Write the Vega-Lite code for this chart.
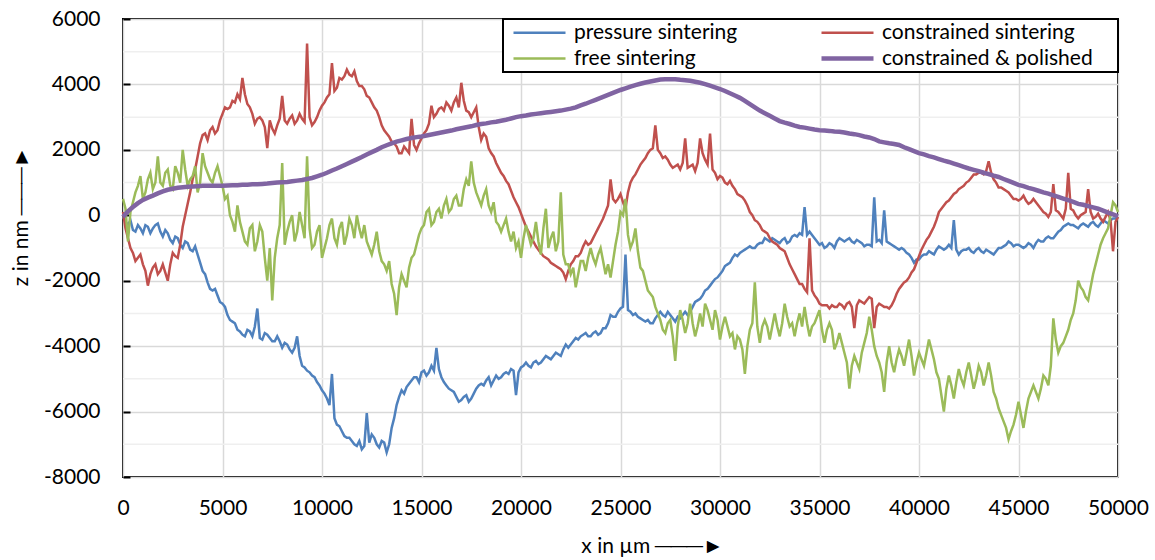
{
"$schema": "https://vega.github.io/schema/vega-lite/v6.json",
"width": 995, "height": 458,
"autosize": {"type": "none"},
"padding": {"left": 123, "top": 19, "right": 37, "bottom": 83},
"background": "white",
"config": {"view": {"stroke": "#000", "strokeWidth": 2}, "font": "Lato"},
"data": {"values": [
{"x":0,"p":-50,"c":100,"f":500,"k":-50},
{"x":250,"p":-300,"c":-700,"f":-800,"k":120},
{"x":500,"p":-450,"c":-1150,"f":400,"k":250},
{"x":750,"p":-300,"c":-1300,"f":900,"k":370},
{"x":1000,"p":-550,"c":-1500,"f":500,"k":470},
{"x":1250,"p":-350,"c":-2150,"f":1100,"k":540},
{"x":1500,"p":-400,"c":-1600,"f":800,"k":600},
{"x":1750,"p":-250,"c":-1800,"f":1800,"k":670},
{"x":2000,"p":-650,"c":-1500,"f":900,"k":730},
{"x":2250,"p":-550,"c":-2000,"f":1400,"k":780},
{"x":2500,"p":-850,"c":-1150,"f":800,"k":810},
{"x":2750,"p":-700,"c":-1300,"f":1300,"k":840},
{"x":3000,"p":-1000,"c":-350,"f":2000,"k":860},
{"x":3250,"p":-850,"c":350,"f":900,"k":870},
{"x":3500,"p":-1100,"c":1100,"f":1200,"k":880},
{"x":3750,"p":-1200,"c":1800,"f":700,"k":890},
{"x":4000,"p":-1700,"c":2450,"f":1900,"k":900},
{"x":4250,"p":-2050,"c":2300,"f":1300,"k":900},
{"x":4500,"p":-2300,"c":2700,"f":1000,"k":900},
{"x":4750,"p":-2450,"c":2600,"f":1500,"k":905},
{"x":5000,"p":-2700,"c":3100,"f":900,"k":900},
{"x":5250,"p":-3050,"c":3250,"f":600,"k":910},
{"x":5500,"p":-3250,"c":3500,"f":-200,"k":915},
{"x":5750,"p":-3500,"c":3700,"f":300,"k":920},
{"x":6000,"p":-3650,"c":4200,"f":-500,"k":930},
{"x":6250,"p":-3500,"c":3400,"f":-900,"k":935},
{"x":6500,"p":-3700,"c":3100,"f":-300,"k":945},
{"x":6750,"p":-2850,"c":2950,"f":-800,"k":950},
{"x":7000,"p":-3800,"c":2900,"f":-500,"k":960},
{"x":7250,"p":-3650,"c":2050,"f":-2000,"k":970},
{"x":7500,"p":-3850,"c":2650,"f":-2600,"k":985},
{"x":7750,"p":-3700,"c":2750,"f":-700,"k":1000},
{"x":8000,"p":-4050,"c":3650,"f":1600,"k":1010},
{"x":8250,"p":-3950,"c":2800,"f":-500,"k":1020},
{"x":8500,"p":-4200,"c":3050,"f":0,"k":1040},
{"x":8750,"p":-3700,"c":2900,"f":-500,"k":1060},
{"x":9000,"p":-4600,"c":2950,"f":-300,"k":1080},
{"x":9250,"p":-4750,"c":5250,"f":1800,"k":1110},
{"x":9500,"p":-4900,"c":2750,"f":-1000,"k":1140},
{"x":9750,"p":-5100,"c":3000,"f":-500,"k":1190},
{"x":10000,"p":-5350,"c":3350,"f":-1300,"k":1240},
{"x":10250,"p":-5600,"c":3600,"f":-700,"k":1300},
{"x":10500,"p":-4850,"c":4650,"f":-100,"k":1370},
{"x":10750,"p":-6400,"c":3900,"f":-900,"k":1430},
{"x":11000,"p":-6600,"c":4150,"f":-200,"k":1500},
{"x":11250,"p":-6800,"c":4450,"f":-600,"k":1570},
{"x":11500,"p":-6900,"c":4250,"f":-300,"k":1640},
{"x":11750,"p":-7050,"c":4100,"f":0,"k":1710},
{"x":12000,"p":-7150,"c":3950,"f":-700,"k":1780},
{"x":12250,"p":-6050,"c":3650,"f":-800,"k":1860},
{"x":12500,"p":-6700,"c":3450,"f":-1200,"k":1930},
{"x":12750,"p":-7000,"c":3200,"f":-500,"k":2000},
{"x":13000,"p":-6900,"c":2750,"f":-1400,"k":2080},
{"x":13250,"p":-7250,"c":2500,"f":-1700,"k":2140},
{"x":13500,"p":-6500,"c":2250,"f":-2100,"k":2200},
{"x":13750,"p":-5800,"c":2100,"f":-3050,"k":2250},
{"x":14000,"p":-5350,"c":1900,"f":-1800,"k":2290},
{"x":14250,"p":-5250,"c":2000,"f":-2200,"k":2330},
{"x":14500,"p":-5050,"c":2950,"f":-1300,"k":2360},
{"x":14750,"p":-4950,"c":2000,"f":-900,"k":2390},
{"x":15000,"p":-4800,"c":2350,"f":-400,"k":2410},
{"x":15250,"p":-4900,"c":2600,"f":100,"k":2440},
{"x":15500,"p":-4600,"c":3350,"f":-300,"k":2470},
{"x":15750,"p":-4050,"c":3100,"f":100,"k":2500},
{"x":16000,"p":-4950,"c":3300,"f":-100,"k":2530},
{"x":16250,"p":-5200,"c":3450,"f":500,"k":2560},
{"x":16500,"p":-5350,"c":3200,"f":200,"k":2590},
{"x":16750,"p":-5550,"c":3600,"f":600,"k":2630},
{"x":17000,"p":-5650,"c":4050,"f":300,"k":2660},
{"x":17250,"p":-5500,"c":3200,"f":1100,"k":2690},
{"x":17500,"p":-5600,"c":3000,"f":1650,"k":2720},
{"x":17750,"p":-5300,"c":3300,"f":700,"k":2760},
{"x":18000,"p":-5150,"c":2300,"f":300,"k":2790},
{"x":18250,"p":-5050,"c":2400,"f":800,"k":2810},
{"x":18500,"p":-5200,"c":1900,"f":100,"k":2840},
{"x":18750,"p":-4900,"c":1600,"f":-200,"k":2860},
{"x":19000,"p":-4950,"c":1300,"f":-500,"k":2890},
{"x":19250,"p":-4800,"c":1050,"f":-100,"k":2920},
{"x":19500,"p":-4700,"c":750,"f":-800,"k":2960},
{"x":19750,"p":-5500,"c":400,"f":-1000,"k":3000},
{"x":20000,"p":-4650,"c":50,"f":-1300,"k":3030},
{"x":20250,"p":-4500,"c":-350,"f":-300,"k":3050},
{"x":20500,"p":-4650,"c":-650,"f":-900,"k":3080},
{"x":20750,"p":-4450,"c":-950,"f":-200,"k":3100},
{"x":21000,"p":-4500,"c":-1150,"f":-1200,"k":3120},
{"x":21250,"p":-4300,"c":-1300,"f":200,"k":3140},
{"x":21500,"p":-4400,"c":-1450,"f":-700,"k":3160},
{"x":21750,"p":-4200,"c":-1550,"f":-1100,"k":3180},
{"x":22000,"p":-4300,"c":-1650,"f":700,"k":3200},
{"x":22250,"p":-3950,"c":-1950,"f":-1500,"k":3230},
{"x":22500,"p":-3950,"c":-1500,"f":-1800,"k":3260},
{"x":22750,"p":-3750,"c":-1250,"f":-2200,"k":3300},
{"x":23000,"p":-3700,"c":-1150,"f":-1400,"k":3360},
{"x":23250,"p":-3600,"c":-800,"f":-1700,"k":3410},
{"x":23500,"p":-3700,"c":-850,"f":-1000,"k":3470},
{"x":23750,"p":-3550,"c":-550,"f":-1500,"k":3530},
{"x":24000,"p":-3600,"c":-250,"f":-1000,"k":3590},
{"x":24250,"p":-3450,"c":100,"f":-1800,"k":3650},
{"x":24500,"p":-3050,"c":1100,"f":-1900,"k":3710},
{"x":24750,"p":-3100,"c":400,"f":-900,"k":3770},
{"x":25000,"p":-2850,"c":650,"f":100,"k":3830},
{"x":25250,"p":-1200,"c":200,"f":500,"k":3880},
{"x":25500,"p":-2950,"c":1000,"f":-1000,"k":3930},
{"x":25750,"p":-3000,"c":1250,"f":-400,"k":3980},
{"x":26000,"p":-3150,"c":1550,"f":-1600,"k":4020},
{"x":26250,"p":-3250,"c":1750,"f":-2000,"k":4060},
{"x":26500,"p":-3300,"c":2000,"f":-2400,"k":4090},
{"x":26750,"p":-3150,"c":2750,"f":-2800,"k":4120},
{"x":27000,"p":-2950,"c":1900,"f":-3200,"k":4150},
{"x":27250,"p":-3100,"c":1800,"f":-3600,"k":4160},
{"x":27500,"p":-3050,"c":1550,"f":-3200,"k":4160},
{"x":27750,"p":-3250,"c":1500,"f":-4450,"k":4160},
{"x":28000,"p":-3150,"c":1400,"f":-2900,"k":4140},
{"x":28250,"p":-2950,"c":2350,"f":-3600,"k":4130},
{"x":28500,"p":-2950,"c":1500,"f":-2700,"k":4110},
{"x":28750,"p":-2650,"c":1350,"f":-3700,"k":4080},
{"x":29000,"p":-2550,"c":2350,"f":-3000,"k":4050},
{"x":29250,"p":-2300,"c":1700,"f":-2700,"k":4010},
{"x":29500,"p":-2150,"c":2500,"f":-3200,"k":3960},
{"x":29750,"p":-1950,"c":1300,"f":-2900,"k":3910},
{"x":30000,"p":-1800,"c":1200,"f":-3800,"k":3860},
{"x":30250,"p":-1550,"c":1000,"f":-3100,"k":3800},
{"x":30500,"p":-1450,"c":1050,"f":-3700,"k":3730},
{"x":30750,"p":-1200,"c":800,"f":-4100,"k":3660},
{"x":31000,"p":-1150,"c":600,"f":-3800,"k":3590},
{"x":31250,"p":-1050,"c":450,"f":-4850,"k":3500},
{"x":31500,"p":-950,"c":100,"f":-3500,"k":3400},
{"x":31750,"p":-1000,"c":-150,"f":-2050,"k":3300},
{"x":32000,"p":-850,"c":-300,"f":-3900,"k":3200},
{"x":32250,"p":-700,"c":-500,"f":-3200,"k":3120},
{"x":32500,"p":-800,"c":-700,"f":-3800,"k":3040},
{"x":32750,"p":-750,"c":-850,"f":-3000,"k":2960},
{"x":33000,"p":-850,"c":-1000,"f":-3700,"k":2880},
{"x":33250,"p":-700,"c":-1100,"f":-2700,"k":2830},
{"x":33500,"p":-800,"c":-1500,"f":-3400,"k":2790},
{"x":33750,"p":-600,"c":-1800,"f":-3700,"k":2740},
{"x":34000,"p":-550,"c":-2100,"f":-3000,"k":2700},
{"x":34250,"p":250,"c":-2250,"f":-2800,"k":2680},
{"x":34500,"p":-500,"c":-700,"f":-3700,"k":2650},
{"x":34750,"p":-700,"c":-2450,"f":-3300,"k":2620},
{"x":35000,"p":-900,"c":-2700,"f":-2900,"k":2600},
{"x":35250,"p":-1000,"c":-2750,"f":-3900,"k":2590},
{"x":35500,"p":-850,"c":-2850,"f":-3300,"k":2580},
{"x":35750,"p":-1000,"c":-2800,"f":-4100,"k":2560},
{"x":36000,"p":-700,"c":-2700,"f":-3600,"k":2550},
{"x":36250,"p":-800,"c":-2850,"f":-4200,"k":2530},
{"x":36500,"p":-700,"c":-2650,"f":-5300,"k":2500},
{"x":36750,"p":-850,"c":-3450,"f":-4300,"k":2480},
{"x":37000,"p":-800,"c":-2600,"f":-4700,"k":2450},
{"x":37250,"p":-950,"c":-2700,"f":-3900,"k":2410},
{"x":37500,"p":-900,"c":-2500,"f":-3100,"k":2380},
{"x":37750,"p":550,"c":-3450,"f":-4000,"k":2330},
{"x":38000,"p":-750,"c":-2700,"f":-4500,"k":2260},
{"x":38250,"p":150,"c":-2800,"f":-5400,"k":2230},
{"x":38500,"p":-850,"c":-2850,"f":-4000,"k":2200},
{"x":38750,"p":-950,"c":-2600,"f":-4800,"k":2180},
{"x":39000,"p":-1050,"c":-2250,"f":-4100,"k":2150},
{"x":39250,"p":-1050,"c":-2050,"f":-4600,"k":2080},
{"x":39500,"p":-1200,"c":-1900,"f":-3800,"k":2020},
{"x":39750,"p":-1450,"c":-1650,"f":-4900,"k":1960},
{"x":40000,"p":-1350,"c":-1250,"f":-4200,"k":1900},
{"x":40250,"p":-1200,"c":-900,"f":-4600,"k":1860},
{"x":40500,"p":-1100,"c":-650,"f":-3800,"k":1810},
{"x":40750,"p":-1200,"c":-350,"f":-4400,"k":1770},
{"x":41000,"p":-950,"c":100,"f":-5000,"k":1720},
{"x":41250,"p":-1050,"c":300,"f":-6000,"k":1670},
{"x":41500,"p":-900,"c":450,"f":-4900,"k":1630},
{"x":41750,"p":-150,"c":650,"f":-5600,"k":1580},
{"x":42000,"p":-1200,"c":800,"f":-4700,"k":1530},
{"x":42250,"p":-1050,"c":900,"f":-5200,"k":1480},
{"x":42500,"p":-1000,"c":1050,"f":-4500,"k":1430},
{"x":42750,"p":-1150,"c":1250,"f":-5300,"k":1390},
{"x":43000,"p":-1000,"c":1300,"f":-4600,"k":1350},
{"x":43250,"p":-1150,"c":1250,"f":-5200,"k":1300},
{"x":43500,"p":-1100,"c":1650,"f":-4500,"k":1260},
{"x":43750,"p":-1200,"c":1100,"f":-5400,"k":1210},
{"x":44000,"p":-1000,"c":850,"f":-5900,"k":1170},
{"x":44250,"p":-950,"c":800,"f":-6300,"k":1110},
{"x":44500,"p":-800,"c":700,"f":-6850,"k":1050},
{"x":44750,"p":-950,"c":500,"f":-6400,"k":990},
{"x":45000,"p":-900,"c":450,"f":-5700,"k":930},
{"x":45250,"p":-1000,"c":600,"f":-6500,"k":890},
{"x":45500,"p":-850,"c":350,"f":-5600,"k":840},
{"x":45750,"p":-1000,"c":500,"f":-5200,"k":800},
{"x":46000,"p":-750,"c":300,"f":-5600,"k":750},
{"x":46250,"p":-800,"c":100,"f":-4900,"k":700},
{"x":46500,"p":-650,"c":-50,"f":-5200,"k":660},
{"x":46750,"p":-700,"c":950,"f":-3150,"k":610},
{"x":47000,"p":-500,"c":100,"f":-4200,"k":560},
{"x":47250,"p":-350,"c":-100,"f":-3900,"k":510},
{"x":47500,"p":-250,"c":1300,"f":-3500,"k":460},
{"x":47750,"p":-300,"c":150,"f":-3000,"k":410},
{"x":48000,"p":-400,"c":-100,"f":-2000,"k":350},
{"x":48250,"p":-250,"c":50,"f":-2300,"k":320},
{"x":48500,"p":-350,"c":800,"f":-2600,"k":280},
{"x":48750,"p":-200,"c":-100,"f":-1800,"k":240},
{"x":49000,"p":-350,"c":50,"f":-1200,"k":200},
{"x":49250,"p":-150,"c":-200,"f":-700,"k":140},
{"x":49500,"p":-250,"c":100,"f":-400,"k":80},
{"x":49750,"p":-100,"c":-1100,"f":400,"k":30},
{"x":50000,"p":-50,"c":-50,"f":100,"k":-30},
{"x":125,"p":-200,"c":-400,"f":200},
{"x":375,"p":-150,"c":-1000,"f":100},
{"x":625,"p":-500,"c":-1400,"f":700},
{"x":875,"p":-400,"c":-1200,"f":1200},
{"x":1125,"p":-300,"c":-1700,"f":700},
{"x":1375,"p":-550,"c":-1800,"f":1300},
{"x":1625,"p":-300,"c":-1500,"f":1000},
{"x":1875,"p":-500,"c":-1700,"f":1000},
{"x":2125,"p":-450,"c":-1750,"f":1300},
{"x":2375,"p":-750,"c":-1500,"f":900},
{"x":2625,"p":-650,"c":-1250,"f":1500},
{"x":2875,"p":-900,"c":-900,"f":1000},
{"x":3125,"p":-800,"c":0,"f":1400},
{"x":3375,"p":-1050,"c":700,"f":1100},
{"x":3625,"p":-950,"c":1400,"f":1500},
{"x":3875,"p":-1450,"c":2200,"f":1000},
{"x":4125,"p":-1800,"c":2500,"f":1500},
{"x":4375,"p":-2250,"c":2600,"f":1100},
{"x":4625,"p":-2250,"c":2500,"f":1300},
{"x":4875,"p":-2650,"c":2900,"f":1200},
{"x":5125,"p":-2800,"c":3300,"f":500},
{"x":5375,"p":-3200,"c":3300,"f":0},
{"x":5625,"p":-3300,"c":3450,"f":-500},
{"x":5875,"p":-3550,"c":3550,"f":-200},
{"x":6125,"p":-3700,"c":3700,"f":-800},
{"x":6375,"p":-3550,"c":3300,"f":-400},
{"x":6625,"p":-3400,"c":2800,"f":-1100},
{"x":6875,"p":-3750,"c":3000,"f":-300},
{"x":7125,"p":-3600,"c":2700,"f":-1300},
{"x":7375,"p":-3750,"c":2900,"f":-1000},
{"x":7625,"p":-3850,"c":2500,"f":-1300},
{"x":7875,"p":-3850,"c":2950,"f":-300},
{"x":8125,"p":-3900,"c":2900,"f":-900},
{"x":8375,"p":-4100,"c":2950,"f":-200},
{"x":8625,"p":-4050,"c":2800,"f":-800},
{"x":8875,"p":-4300,"c":3100,"f":100},
{"x":9125,"p":-4650,"c":2850,"f":-700},
{"x":9375,"p":-4800,"c":3000,"f":-400},
{"x":9625,"p":-4950,"c":2850,"f":-900},
{"x":9875,"p":-5200,"c":3200,"f":-300},
{"x":10125,"p":-5450,"c":3450,"f":-1000},
{"x":10375,"p":-5800,"c":3700,"f":-300},
{"x":10625,"p":-6200,"c":3800,"f":-700},
{"x":10875,"p":-6450,"c":4200,"f":-400},
{"x":11125,"p":-6750,"c":4250,"f":-900},
{"x":11375,"p":-6800,"c":4300,"f":-100},
{"x":11625,"p":-7000,"c":4400,"f":-700},
{"x":11875,"p":-6900,"c":3950,"f":-400},
{"x":12125,"p":-7050,"c":3850,"f":-300},
{"x":12375,"p":-6950,"c":3600,"f":-1000},
{"x":12625,"p":-6800,"c":3300,"f":-900},
{"x":12875,"p":-7100,"c":3000,"f":-1100},
{"x":13125,"p":-6950,"c":2600,"f":-1500},
{"x":13375,"p":-7000,"c":2400,"f":-1400},
{"x":13625,"p":-6200,"c":2200,"f":-2400},
{"x":13875,"p":-5550,"c":1900,"f":-2200},
{"x":14125,"p":-5450,"c":2100,"f":-2000},
{"x":14375,"p":-5150,"c":1900,"f":-1600},
{"x":14625,"p":-4950,"c":2150,"f":-1200},
{"x":14875,"p":-5100,"c":2200,"f":-600},
{"x":15125,"p":-4750,"c":2500,"f":-300},
{"x":15375,"p":-4800,"c":2800,"f":200},
{"x":15625,"p":-4750,"c":3000,"f":-200},
{"x":15875,"p":-4700,"c":3250,"f":200},
{"x":16125,"p":-5100,"c":3200,"f":300},
{"x":16375,"p":-5300,"c":3350,"f":100},
{"x":16625,"p":-5400,"c":3450,"f":500},
{"x":16875,"p":-5700,"c":3300,"f":300},
{"x":17125,"p":-5550,"c":3500,"f":800},
{"x":17375,"p":-5700,"c":3150,"f":900},
{"x":17625,"p":-5450,"c":3150,"f":1000},
{"x":17875,"p":-5200,"c":2700,"f":500},
{"x":18125,"p":-5200,"c":2500,"f":600},
{"x":18375,"p":-4950,"c":2050,"f":300},
{"x":18625,"p":-5050,"c":1800,"f":400},
{"x":18875,"p":-5000,"c":1450,"f":-300},
{"x":19125,"p":-4850,"c":1200,"f":-300},
{"x":19375,"p":-4850,"c":950,"f":-500},
{"x":19625,"p":-4750,"c":550,"f":-500},
{"x":19875,"p":-4800,"c":250,"f":-800},
{"x":20125,"p":-4600,"c":-150,"f":-700},
{"x":20375,"p":-4600,"c":-500,"f":-600},
{"x":20625,"p":-4500,"c":-800,"f":-700},
{"x":20875,"p":-4550,"c":-1050,"f":-800},
{"x":21125,"p":-4400,"c":-1250,"f":-400},
{"x":21375,"p":-4350,"c":-1350,"f":-1000},
{"x":21625,"p":-4300,"c":-1500,"f":-500},
{"x":21875,"p":-4250,"c":-1600,"f":-800},
{"x":22125,"p":-4100,"c":-1750,"f":-1200},
{"x":22375,"p":-4050,"c":-1700,"f":-1500},
{"x":22625,"p":-3850,"c":-1400,"f":-1600},
{"x":22875,"p":-3800,"c":-1250,"f":-1800},
{"x":23125,"p":-3650,"c":-950,"f":-1400},
{"x":23375,"p":-3700,"c":-900,"f":-1300},
{"x":23625,"p":-3600,"c":-700,"f":-1300},
{"x":23875,"p":-3650,"c":-400,"f":-1200},
{"x":24125,"p":-3450,"c":-100,"f":-1400},
{"x":24375,"p":-3300,"c":300,"f":-1500},
{"x":24625,"p":-3100,"c":500,"f":-1400},
{"x":24875,"p":-2950,"c":500,"f":-500},
{"x":25125,"p":-2800,"c":400,"f":0},
{"x":25375,"p":-2900,"c":700,"f":-600},
{"x":25625,"p":-3050,"c":1150,"f":-800},
{"x":25875,"p":-3100,"c":1400,"f":-1100},
{"x":26125,"p":-3200,"c":1650,"f":-1700},
{"x":26375,"p":-3200,"c":1900,"f":-2300},
{"x":26625,"p":-3300,"c":2050,"f":-2500},
{"x":26875,"p":-3050,"c":2000,"f":-3000},
{"x":27125,"p":-3050,"c":1750,"f":-3500},
{"x":27375,"p":-2950,"c":1700,"f":-3300},
{"x":27625,"p":-3150,"c":1450,"f":-3700},
{"x":27875,"p":-3100,"c":1550,"f":-3400},
{"x":28125,"p":-3050,"c":1600,"f":-3200},
{"x":28375,"p":-3050,"c":1450,"f":-3300},
{"x":28625,"p":-2800,"c":1550,"f":-3300},
{"x":28875,"p":-2600,"c":1600,"f":-3400},
{"x":29125,"p":-2450,"c":1900,"f":-3400},
{"x":29375,"p":-2250,"c":1550,"f":-2900},
{"x":29625,"p":-2050,"c":1400,"f":-3500},
{"x":29875,"p":-1900,"c":1100,"f":-3200},
{"x":30125,"p":-1700,"c":1150,"f":-3400},
{"x":30375,"p":-1500,"c":950,"f":-3400},
{"x":30625,"p":-1300,"c":900,"f":-3600},
{"x":30875,"p":-1250,"c":650,"f":-3700},
{"x":31125,"p":-1100,"c":550,"f":-4100},
{"x":31375,"p":-1000,"c":300,"f":-4000},
{"x":31625,"p":-1000,"c":0,"f":-3300},
{"x":31875,"p":-900,"c":-200,"f":-3400},
{"x":32125,"p":-850,"c":-450,"f":-3400},
{"x":32375,"p":-750,"c":-550,"f":-3400},
{"x":32625,"p":-700,"c":-800,"f":-3400},
{"x":32875,"p":-800,"c":-900,"f":-3400},
{"x":33125,"p":-750,"c":-1050,"f":-3300},
{"x":33375,"p":-850,"c":-1300,"f":-3100},
{"x":33625,"p":-650,"c":-1650,"f":-3300},
{"x":33875,"p":-650,"c":-1950,"f":-3300},
{"x":34125,"p":-600,"c":-2100,"f":-3400},
{"x":34375,"p":-600,"c":-2350,"f":-3300},
{"x":34625,"p":-600,"c":-2300,"f":-3400},
{"x":34875,"p":-800,"c":-2550,"f":-3100},
{"x":35125,"p":-850,"c":-2750,"f":-3500},
{"x":35375,"p":-950,"c":-2750,"f":-3500},
{"x":35625,"p":-900,"c":-2750,"f":-3500},
{"x":35875,"p":-800,"c":-2800,"f":-3900},
{"x":36125,"p":-750,"c":-2750,"f":-3900},
{"x":36375,"p":-750,"c":-2700,"f":-4500},
{"x":36625,"p":-800,"c":-2800,"f":-4600},
{"x":36875,"p":-750,"c":-2750,"f":-4500},
{"x":37125,"p":-850,"c":-2650,"f":-4200},
{"x":37375,"p":-900,"c":-2600,"f":-3600},
{"x":37625,"p":-950,"c":-2550,"f":-3500},
{"x":37875,"p":-800,"c":-2800,"f":-4300},
{"x":38125,"p":-850,"c":-2750,"f":-4800},
{"x":38375,"p":-800,"c":-2800,"f":-4500},
{"x":38625,"p":-900,"c":-2750,"f":-4500},
{"x":38875,"p":-1000,"c":-2400,"f":-4400},
{"x":39125,"p":-1000,"c":-2150,"f":-4300},
{"x":39375,"p":-1150,"c":-2000,"f":-4200},
{"x":39625,"p":-1300,"c":-1750,"f":-4300},
{"x":39875,"p":-1350,"c":-1450,"f":-4500},
{"x":40125,"p":-1250,"c":-1050,"f":-4400},
{"x":40375,"p":-1200,"c":-750,"f":-4200},
{"x":40625,"p":-1150,"c":-500,"f":-4100},
{"x":40875,"p":-1050,"c":-150,"f":-4800},
{"x":41125,"p":-1000,"c":200,"f":-5500},
{"x":41375,"p":-1000,"c":400,"f":-5300},
{"x":41625,"p":-1000,"c":550,"f":-5200},
{"x":41875,"p":-1050,"c":700,"f":-5100},
{"x":42125,"p":-1100,"c":850,"f":-5000},
{"x":42375,"p":-1050,"c":1000,"f":-4800},
{"x":42625,"p":-1100,"c":1150,"f":-4900},
{"x":42875,"p":-1050,"c":1250,"f":-5000},
{"x":43125,"p":-1100,"c":1300,"f":-4800},
{"x":43375,"p":-1050,"c":1350,"f":-4900},
{"x":43625,"p":-1150,"c":1300,"f":-4900},
{"x":43875,"p":-1100,"c":1000,"f":-5600},
{"x":44125,"p":-1000,"c":850,"f":-6100},
{"x":44375,"p":-900,"c":750,"f":-6500},
{"x":44625,"p":-850,"c":600,"f":-6600},
{"x":44875,"p":-900,"c":500,"f":-6100},
{"x":45125,"p":-950,"c":500,"f":-6100},
{"x":45375,"p":-950,"c":450,"f":-6000},
{"x":45625,"p":-900,"c":400,"f":-5400},
{"x":45875,"p":-850,"c":400,"f":-5400},
{"x":46125,"p":-800,"c":200,"f":-5300},
{"x":46375,"p":-700,"c":50,"f":-5000},
{"x":46625,"p":-700,"c":100,"f":-4600},
{"x":46875,"p":-600,"c":150,"f":-3800},
{"x":47125,"p":-450,"c":0,"f":-4000},
{"x":47375,"p":-300,"c":200,"f":-3700},
{"x":47625,"p":-300,"c":200,"f":-3200},
{"x":47875,"p":-350,"c":0,"f":-2600},
{"x":48125,"p":-300,"c":0,"f":-2200},
{"x":48375,"p":-300,"c":100,"f":-2500},
{"x":48625,"p":-250,"c":100,"f":-2200},
{"x":48875,"p":-300,"c":-50,"f":-1500},
{"x":49125,"p":-250,"c":-100,"f":-900},
{"x":49375,"p":-200,"c":-50,"f":-550},
{"x":49625,"p":-150,"c":-150,"f":0},
{"x":49875,"p":-100,"c":-200,"f":300}
]},
"layer": [
{
"data": {"values": [{"z":-7000},{"z":-5000},{"z":-3000},{"z":-1000},{"z":1000},{"z":3000},{"z":5000}]},
"mark": {"type": "rule", "color": "#efefef", "strokeWidth": 1.5},
"encoding": {"y": {"field": "z", "type": "quantitative"}}
},
{
"transform": [{"fold": ["p", "c", "f", "k"], "as": ["s", "z"]}, {"filter": "isValid(datum.z)"}],
"encoding": {
"x": {"field": "x", "type": "quantitative", "scale": {"domain": [0, 50000], "nice": false},
"axis": {"values": [0,5000,10000,15000,20000,25000,30000,35000,40000,45000,50000], "format": "d", "grid": true, "gridColor": "#d9d9d9", "gridWidth": 1.5, "domain": false, "ticks": false, "labelFont": "Lato", "labelFontSize": 21, "labelColor": "#000", "labelPadding": 20, "labelFlush": false,
"title": "x in µm ───►", "titleFont": "Lato", "titleFontSize": 21, "titleFontWeight": "normal", "titleColor": "#000", "titleX": 529, "titleY": 58}},
"y": {"field": "z", "type": "quantitative", "scale": {"domain": [-8000, 6000], "nice": false},
"axis": {"values": [-8000,-6000,-4000,-2000,0,2000,4000,6000], "labelExpr": "'' + datum.value", "grid": true, "gridColor": "#d9d9d9", "gridWidth": 1.5, "domain": false, "ticks": true, "tickSize": -7, "tickColor": "#000", "tickWidth": 2, "labelFont": "Lato", "labelFontSize": 21, "labelColor": "#000", "labelPadding": 30,
"title": "z in nm ───►", "titleFont": "Lato", "titleFontSize": 21, "titleFontWeight": "normal", "titleColor": "#000", "titleX": -92, "titleY": 197}},
"color": {"field": "s", "type": "nominal", "scale": {"domain": ["p", "c", "f", "k"], "range": ["#4F81BD", "#C0504D", "#9BBB59", "#8064A2"]},
"legend": {"title": null, "orient": "top-right", "offset": 0, "columns": 2, "gridAlign": "each", "values": ["p", "f", "c", "k"],
"symbolType": "M-1,0L9.4,0", "symbolSize": 100, "symbolStrokeWidth": 2.5, "symbolOffset": 2, "labelOffset": 45,
"labelFont": "Lato", "labelFontSize": 21, "labelColor": "#000", "labelLimit": 500,
"padding": 3, "rowPadding": 4, "columnPadding": 74, "strokeColor": "#000", "fillColor": "#fff",
"labelExpr": "datum.value == 'p' ? 'pressure sintering' : datum.value == 'c' ? 'constrained sintering' : datum.value == 'f' ? 'free sintering' : 'constrained & polished    \u200b'",
"encode": {"symbols": {"update": {"strokeWidth": {"signal": "datum.value == 'k' ? 4.5 : 2.5"}, "fill": {"value": "transparent"}}}, "legend": {"update": {"strokeWidth": {"value": 2}}}}}}
},
"layer": [
{"transform": [{"filter": "datum.s != 'k'"}], "mark": {"type": "line", "strokeWidth": 2.5}},
{"transform": [{"filter": "datum.s == 'k'"}], "mark": {"type": "line", "strokeWidth": 4.5}}
]
}
]
}
